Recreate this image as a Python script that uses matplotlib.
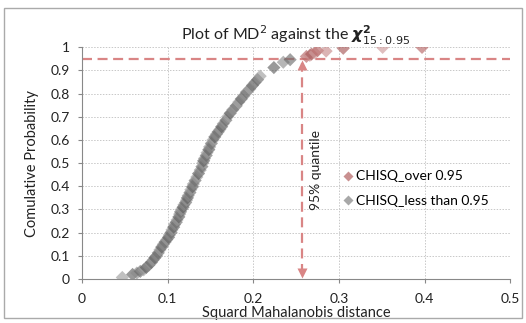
import numpy as np
import matplotlib
matplotlib.use("Agg")
import matplotlib.pyplot as plt
from matplotlib.lines import Line2D
from matplotlib.patches import Rectangle

# squared Mahalanobis distance vs cumulative probability
md2_less = [0.047, 0.059, 0.064, 0.068, 0.072, 0.075, 0.078, 0.081, 0.083, 0.085,
            0.087, 0.089, 0.091, 0.093, 0.095, 0.097, 0.099, 0.101, 0.102, 0.104,
            0.105, 0.107, 0.108, 0.110, 0.111, 0.113, 0.114, 0.115, 0.116, 0.118,
            0.119, 0.121, 0.122, 0.123, 0.124, 0.126, 0.127, 0.129, 0.130, 0.132,
            0.134, 0.136, 0.138, 0.140, 0.141, 0.142, 0.143, 0.145, 0.146, 0.148,
            0.149, 0.151, 0.153, 0.155, 0.157, 0.159, 0.161, 0.163, 0.165, 0.168,
            0.170, 0.173, 0.176, 0.180, 0.183, 0.186, 0.189, 0.192, 0.196, 0.199,
            0.202, 0.205, 0.208, 0.224, 0.235, 0.243]
prob_less = [0.007, 0.020, 0.026, 0.033, 0.040, 0.050, 0.060, 0.072, 0.082, 0.092,
             0.100, 0.113, 0.126, 0.138, 0.150, 0.160, 0.170, 0.180, 0.190, 0.201,
             0.212, 0.224, 0.235, 0.245, 0.255, 0.268, 0.280, 0.290, 0.300, 0.310,
             0.320, 0.330, 0.340, 0.350, 0.360, 0.373, 0.385, 0.398, 0.410, 0.425,
             0.440, 0.455, 0.470, 0.485, 0.500, 0.510, 0.520, 0.533, 0.545, 0.558,
             0.570, 0.585, 0.600, 0.613, 0.625, 0.635, 0.645, 0.657, 0.670, 0.685,
             0.700, 0.715, 0.730, 0.747, 0.763, 0.777, 0.790, 0.806, 0.820, 0.835,
             0.848, 0.860, 0.875, 0.912, 0.935, 0.946]

md2_over = [0.262, 0.266, 0.268, 0.272, 0.275, 0.285, 0.305, 0.351, 0.397]
prob_over = [0.960, 0.965, 0.970, 0.975, 0.985, 0.983, 0.995, 0.999, 0.999]

quantile_x = 0.257
quantile_p = 0.95

x_ticks = [0, 0.1, 0.2, 0.3, 0.4, 0.5]
y_ticks = [0, 0.1, 0.2, 0.3, 0.4, 0.5, 0.6, 0.7, 0.8, 0.9, 1]

plt.rcParams['font.family'] = ['Lato', 'DejaVu Sans']
plt.rcParams['mathtext.fontset'] = 'dejavusans'

fig = plt.figure(figsize=(5.26, 3.23), dpi=100)
ax = fig.add_axes([0.156, 0.136, 0.814, 0.718])

dash_col = '#d98585'
ax.plot([0, 0.5], [quantile_p, quantile_p], color=dash_col, lw=1.6,
        dashes=(4.5, 2.5), zorder=2)
ax.plot([quantile_x, quantile_x], [0.02, 0.93], color=dash_col, lw=1.6,
        dashes=(4.5, 2.5), zorder=2)
ax.plot([quantile_x], [0.925], marker='^', ms=7, color=dash_col, mec='none', zorder=2)
ax.plot([quantile_x], [0.025], marker='v', ms=7, color=dash_col, mec='none', zorder=2)

# alternate light / dark shades like the reference's overlapping markers
gray_shades = ['#9a9a9a', '#5a5a5a', '#8a8a8a', '#6a6a6a']
red_shades = ['#b86868', '#c88c8c', '#a85a5a', '#cf9c9c']
ax.scatter(md2_less, prob_less, marker='D', s=45,
           color=[gray_shades[i % 4] for i in range(len(md2_less))],
           alpha=0.62, edgecolors='none', zorder=3)
ax.scatter(md2_over, prob_over, marker='D', s=45,
           color=[red_shades[i % 4] for i in range(len(md2_over))],
           alpha=0.65, edgecolors='none', zorder=3)

ax.text(0.273, 0.47, '95% quantile', rotation=90, ha='center', va='center',
        fontsize=10, color='#222222')

ax.set_xlim(0, 0.5)
ax.set_ylim(0, 1)
ax.set_xticks(x_ticks)
ax.set_xticklabels([f'{v:g}' for v in x_ticks])
ax.set_yticks(y_ticks)
ax.set_yticklabels([f'{v:g}' for v in y_ticks])
ax.tick_params(labelsize=10, colors='#222222', length=3, width=0.8,
               color='#888888')
ax.tick_params(axis='y', pad=6)
ax.tick_params(axis='x', pad=7)
ax.grid(True, color='#c8c8c8', lw=0.7, ls=(0, (1.5, 1.5)))
ax.set_axisbelow(True)
for s in ['top', 'right']:
    ax.spines[s].set_visible(False)
for s in ['left', 'bottom']:
    ax.spines[s].set_color('#888888')
    ax.spines[s].set_linewidth(0.8)

ax.set_xlabel('Squard Mahalanobis distance', fontsize=10.5, labelpad=1, color='#222222')
ax.set_ylabel('Comulative Probability', fontsize=10.5, labelpad=8, color='#222222')

ax.set_title(r'Plot of MD$^{2}$ against the $\boldsymbol{\chi}^{\mathbf{2}}_{15:0.95}$',
             fontsize=11.5, pad=5, color='#222222')

handles = [Line2D([], [], marker='D', ls='none', ms=5.5, color='#c99090', mec='none'),
           Line2D([], [], marker='D', ls='none', ms=5.5, color='#a8a8a8', mec='none')]
ax.legend(handles, ['CHISQ_over 0.95', 'CHISQ_less than 0.95'], frameon=False,
          fontsize=10, loc='center left', bbox_to_anchor=(0.605, 0.39),
          borderaxespad=0, borderpad=0, handletextpad=0.05, labelspacing=0.9,
          handlelength=1.0)

fig.patches.append(Rectangle((0.008, 0.015), 0.984, 0.96, transform=fig.transFigure,
                             fill=False, edgecolor='#aaaaaa', lw=1.0))

fig.savefig('out.png', dpi=100)
